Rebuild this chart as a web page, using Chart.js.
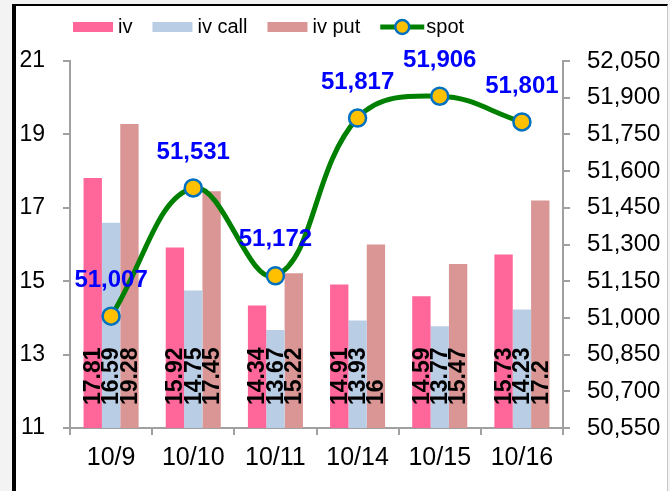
<!DOCTYPE html>
<html><head><meta charset="utf-8">
<script src="https://cdn.jsdelivr.net/npm/chart.js@4.4.1/dist/chart.umd.min.js"></script>
<style>
html,body{margin:0;padding:0;background:#f3f3f3;width:670px;height:491px;overflow:hidden;}
#frame{position:absolute;left:12px;top:4px;width:651px;height:500px;background:#fff;border-left:4px solid #000;border-top:2px solid #000;border-right:1px solid #c8c8c8;}
#c{position:absolute;left:0;top:0;}
</style></head><body>
<div id="frame"></div>
<canvas id="c" width="670" height="491"></canvas>
<script>
const categories = ['10/9', '10/10', '10/11', '10/14', '10/15', '10/16'];
const ivValues = [17.81, 15.92, 14.34, 14.91, 14.59, 15.73];
const ivCallValues = [16.59, 14.75, 13.67, 13.93, 13.77, 14.23];
const ivPutValues = [19.28, 17.45, 15.22, 16, 15.47, 17.2];
const spotValues = [51007, 51531, 51172, 51817, 51906, 51801];
const leftAxis = { min: 11, max: 21, step: 2 };
const rightAxis = { min: 50550, max: 52050, step: 150 };

const FONT = '"Liberation Sans", Arial, sans-serif';
const AXIS_COLOR = '#a0a0a0';

const legendPlugin = {
  id: 'customLegend',
  afterDraw(chart) {
    const ctx = chart.ctx;
    ctx.save();
    ctx.font = '20px ' + FONT;
    ctx.textBaseline = 'middle';
    let x = 73; const y = 27;
    chart.data.datasets.forEach(ds => {
      if (ds.type === 'line') {
        ctx.strokeStyle = ds.borderColor; ctx.lineWidth = 5;
        ctx.beginPath(); ctx.moveTo(x, y); ctx.lineTo(x + 44, y); ctx.stroke();
        ctx.beginPath(); ctx.arc(x + 22, y, 7, 0, Math.PI * 2);
        ctx.fillStyle = ds.pointBackgroundColor; ctx.fill();
        ctx.lineWidth = 2.5; ctx.strokeStyle = ds.pointBorderColor; ctx.stroke();
        x += 46;
      } else {
        ctx.fillStyle = ds.backgroundColor;
        ctx.fillRect(x, y - 5, 40, 10);
        x += 45;
      }
      ctx.fillStyle = '#000';
      ctx.fillText(ds.label, x, y);
      x += ctx.measureText(ds.label).width + 20;
    });
    ctx.restore();
  }
};

const labelPlugin = {
  id: 'valueLabels',
  afterDatasetsDraw(chart) {
    const ctx = chart.ctx;
    ctx.save();
    chart.data.datasets.forEach((ds, i) => {
      const meta = chart.getDatasetMeta(i);
      if (ds.type === 'bar') {
        ctx.font = 'bold 23px ' + FONT;
        ctx.fillStyle = '#000';
        ctx.textAlign = 'left';
        ctx.textBaseline = 'middle';
        meta.data.forEach((el, j) => {
          ctx.save();
          ctx.translate(el.x + 1, chart.chartArea.bottom - 23);
          ctx.rotate(-Math.PI / 2);
          ctx.fillText(String(ds.data[j]), 0, 0);
          ctx.restore();
        });
      }
    });
    chart.data.datasets.forEach((ds, i) => {
      const meta = chart.getDatasetMeta(i);
      if (ds.type === 'line') {
        ctx.font = 'bold 24px ' + FONT;
        ctx.fillStyle = '#0000FF';
        ctx.textAlign = 'center';
        ctx.textBaseline = 'middle';
        meta.data.forEach((el, j) => {
          ctx.fillText(ds.data[j].toLocaleString('en-US'), el.x, el.y - 36);
        });
      }
    });
    ctx.restore();
  }
};

const barCommon = { type: 'bar', yAxisID: 'y', order: 1, categoryPercentage: 0.67, barPercentage: 1, borderWidth: 0 };

new Chart(document.getElementById('c'), {
  data: {
    labels: categories,
    datasets: [
      Object.assign({ label: 'iv', data: ivValues, backgroundColor: '#FF6699' }, barCommon),
      Object.assign({ label: 'iv call', data: ivCallValues, backgroundColor: '#B9CDE5' }, barCommon),
      Object.assign({ label: 'iv put', data: ivPutValues, backgroundColor: '#D99694' }, barCommon),
      {
        type: 'line', label: 'spot', data: spotValues, yAxisID: 'y1', order: 0,
        borderColor: '#008000', borderWidth: 5, tension: 0.4, fill: false,
        pointRadius: 8.5, pointBackgroundColor: '#FFC000', pointBorderColor: '#0070C0', pointBorderWidth: 2.5
      }
    ]
  },
  options: {
    responsive: false,
    animation: false,
    devicePixelRatio: 1,
    layout: { padding: { top: 61, left: 0, right: 0, bottom: 0 } },
    plugins: { legend: { display: false }, tooltip: { enabled: false } },
    scales: {
      x: {
        type: 'category', offset: true,
        grid: { display: true, drawOnChartArea: false, offset: true, tickLength: 7, color: AXIS_COLOR, lineWidth: 2 },
        border: { color: AXIS_COLOR, width: 2 },
        ticks: { font: { family: FONT, size: 25 }, color: '#000', padding: 8, maxRotation: 0 },
        afterFit(s) { s.height = 63; }
      },
      y: {
        position: 'left', min: leftAxis.min, max: leftAxis.max,
        grid: { display: true, drawOnChartArea: false, tickLength: 7, color: AXIS_COLOR, lineWidth: 2 },
        border: { color: AXIS_COLOR, width: 2 },
        ticks: { stepSize: leftAxis.step, font: { family: FONT, size: 23 }, color: '#000', padding: 18 },
        afterFit(s) { s.width = 70; }
      },
      y1: {
        position: 'right', min: rightAxis.min, max: rightAxis.max,
        grid: { display: true, drawOnChartArea: false, tickLength: 7, color: AXIS_COLOR, lineWidth: 2 },
        border: { color: AXIS_COLOR, width: 2 },
        ticks: { stepSize: rightAxis.step, font: { family: FONT, size: 24 }, color: '#000', padding: 17,
                 callback: v => Number(v).toLocaleString('en-US') },
        afterFit(s) { s.width = 107; }
      }
    }
  },
  plugins: [legendPlugin, labelPlugin]
});
</script>
</body></html>
